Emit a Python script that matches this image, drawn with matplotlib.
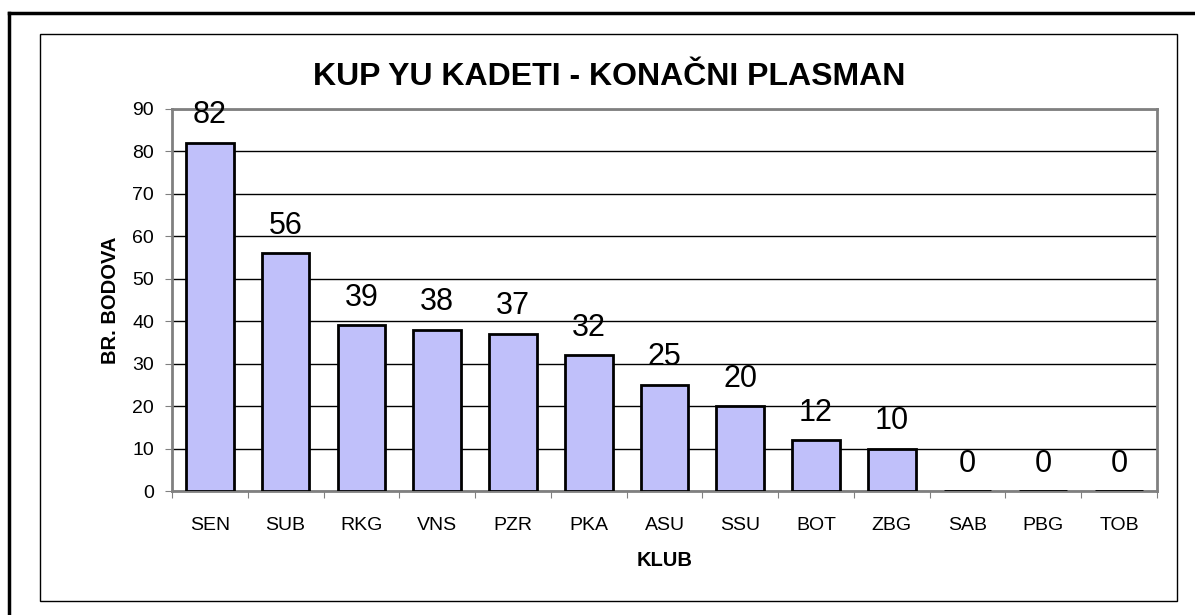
import matplotlib
matplotlib.use('Agg')
import matplotlib.pyplot as plt
from matplotlib.lines import Line2D
from matplotlib.patches import Rectangle

clubs = ['SEN', 'SUB', 'RKG', 'VNS', 'PZR', 'PKA', 'ASU', 'SSU', 'BOT', 'ZBG', 'SAB', 'PBG', 'TOB']
points = [82, 56, 39, 38, 37, 32, 25, 20, 12, 10, 0, 0, 0]
y_ticks = list(range(0, 100, 10))

plt.rcParams['font.family'] = ['Liberation Sans', 'DejaVu Sans']

fig = plt.figure(figsize=(11.95, 6.15), dpi=100)
ax = fig.add_axes([0.1439, 0.2016, 0.8243, 0.6212])

x = range(len(clubs))
ax.bar(x, points, width=0.63, color='#C0C0FA', edgecolor='black', linewidth=2, zorder=3)

for i, v in enumerate(points):
    ax.annotate(str(v), (i, v), xytext=(0, 9), textcoords='offset points',
                ha='center', va='bottom', fontsize=22)

ax.set_xlim(-0.5, len(clubs) - 0.5)
ax.set_ylim(0, 90)
ax.set_yticks(y_ticks)
ax.tick_params(axis='y', labelsize=14, length=5, color='#808080', pad=8)
ax.yaxis.grid(True, color='black', linewidth=1, zorder=0)
ax.set_axisbelow(True)

ax.set_xticks([i - 0.5 for i in range(len(clubs) + 1)])
ax.set_xticklabels([])
ax.set_xticks(list(x), minor=True)
ax.set_xticklabels(clubs, minor=True)
ax.tick_params(axis='x', which='major', length=5, color='#808080')
ax.tick_params(axis='x', which='minor', length=0, labelsize=14, pad=19)

for s in ax.spines.values():
    s.set_color('#808080')
    s.set_linewidth(2)

ax.set_ylabel('BR. BODOVA', fontsize=14.5, fontweight='bold', labelpad=9)
ax.set_xlabel('KLUB', fontsize=14.5, fontweight='bold', labelpad=12)
fig.text(0.51, 0.875, 'KUP YU KADETI - KONAČNI PLASMAN', ha='center', va='center',
         fontsize=23, fontweight='bold')

# okviri
fig.add_artist(Rectangle((0.0335, 0.0228), 0.9515, 0.9219, transform=fig.transFigure,
                         fill=False, edgecolor='black', linewidth=1))
fig.add_artist(Line2D([0.0075, 1.0], [0.9789, 0.9789], transform=fig.transFigure,
                      color='black', linewidth=2.5))
fig.add_artist(Line2D([0.0075, 0.0075], [0.0, 0.9789], transform=fig.transFigure,
                      color='black', linewidth=2.5))

fig.savefig('out.png', dpi=100)
